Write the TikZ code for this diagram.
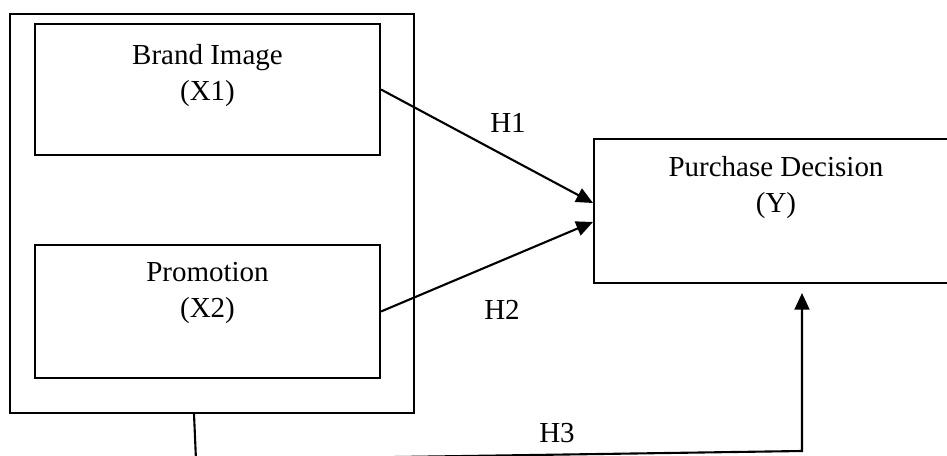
\documentclass[tikz,border=0pt]{standalone}
\usepackage{fontspec}
\setmainfont{Liberation Serif}
\usetikzlibrary{arrows.meta}
\usetikzlibrary{positioning}
\tikzset{   varbox/.style = {rectangle, draw = black, line width = 1.2pt, fill = white, inner sep = 0pt},
            vartext/.style = {align = center, font = \fontsize{16.5}{20.5}\selectfont},
            hyp/.style = {font = \fontsize{16.5}{20.5}\selectfont},
            path/.style = {line width = 1.2pt, -{Triangle[length=9.5pt, width=8.5pt]}}}

\begin{document}
\begin{tikzpicture}[x=0.02cm, y=-0.02cm]
                        \useasboundingbox (0,0) rectangle (947,456);
                        \clip (0,0) rectangle (947,456);
                        % outer frame round X1 and X2
                        \node[varbox, minimum width=8.08cm, minimum height=7.98cm] (outer) at (212,213.5) {};
                        \node[varbox, minimum width=6.9cm, minimum height=2.62cm] (brand) at (207.5,89.5) {};
                        \node[vartext, below=0.3cm of brand.north] (brandtext) {Brand Image\\(X1)};
                        \node[varbox, minimum width=6.9cm, minimum height=2.66cm] (promo) at (207.5,311.5) {};
                        \node[vartext, below=0.24cm of promo.north] (promotext) {Promotion\\(X2)};
                        \node[varbox, minimum width=7.28cm, minimum height=2.88cm] (purchase) at (776,211) {};
                        \node[vartext, below=0.24cm of purchase.north] (purchasetext) {Purchase Decision\\(Y)};
                        % hypotheses
                        \draw[path] (brand.east) -- ([yshift=0.16cm]purchase.west);
                        \draw[path] (promo.east) -- ([yshift=-0.22cm]purchase.west);
                        \coordinate (bend1) at (196,460);
                        \coordinate (bend2) at (802,451);
                        \draw[path] ([xshift=-0.36cm]outer.south) -- (bend1) -- (bend2) -- ([yshift=-0.18cm]bend2 |- purchase.south);
                        \node[hyp] (h1) at (508,123) {H1};
                        \node[hyp] (h2) at (502,310) {H2};
                        \node[hyp] (h3) at (557,433) {H3};
                      \end{tikzpicture}
\end{document}
